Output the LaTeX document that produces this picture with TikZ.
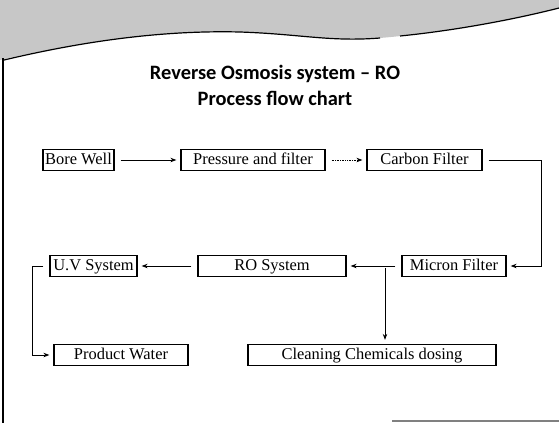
\documentclass[tikz,border=0pt]{standalone}
\usepackage{fontspec}
\setmainfont{Liberation Serif}
\newfontfamily\titlefont{Carlito}
\usetikzlibrary{arrows.meta}

\begin{document}
\begin{tikzpicture}[
            x=1bp, y=-1bp,
            >={Stealth[length=6pt, width=4.5pt]},
            stage/.style={
                    draw,
                    rectangle,
                    line width=1.3pt,
                    font=\fontsize{16.5}{18}\selectfont,
                    inner sep=1pt,
                    text height=11.5bp,
                    text depth=3.5bp,
                    minimum height=21bp
                },
            flow/.style={
                    ->,
                    line width=0.9pt,
                    shorten >=4pt,
                    shorten <=6pt
                },
            heading/.style={
                    font=\titlefont\bfseries\fontsize{20.5}{26}\selectfont,
                    align=center
                }
        ]

        \useasboundingbox (0,0) rectangle (559,423);

        % top band and page frame
        \fill[black!22] (0,0) -- (0,60) .. controls (80,42) and (160,30) .. (240,32)
            .. controls (300,34) and (330,42) .. (380,38)
            .. controls (450,32) and (520,18) .. (559,8) -- (559,0) -- cycle;
        \draw[line width=1.2pt] (4,60) .. controls (80,42) and (160,30) .. (240,32)
            .. controls (300,34) and (330,42) .. (380,38);
        \draw[line width=1.2pt] (400,36) .. controls (460,30) and (520,18) .. (559,8);
        \draw[line width=2pt] (3,58) -- (3,423);
        \draw[gray, line width=1.2pt] (392,421) -- (559,421);

        \node[heading] (title) at (275,85) {Reverse Osmosis system – RO\\Process flow chart};

        \node[stage, minimum width=71bp] (borewell) at (78.5,160) {Bore Well};
        \node[stage, minimum width=144bp] (pressure) at (253,160) {Pressure and filter};
        \node[stage, minimum width=115bp] (carbon) at (424.5,160) {Carbon Filter};
        \node[stage, minimum width=104bp] (micron) at (454,266) {Micron Filter};
        \node[stage, minimum width=148bp] (rosys) at (272,266) {RO System};
        \node[stage, minimum width=87bp] (uvsys) at (93.5,266) {U.V System};
        \node[stage, minimum width=134bp] (product) at (121,355) {Product Water};
        \node[stage, minimum width=248bp] (cleaning) at (372,355) {Cleaning Chemicals dosing};

        \coordinate (branch) at (385,268);

        \draw[flow] (borewell) to (pressure);
        \draw[flow, line width=0.7pt, densely dotted] (pressure) to (carbon);
        \draw[flow] (carbon.east) -- ++(59,0) |- (micron.east);
        \draw[flow] (micron) to (rosys);
        \draw[flow] (rosys) to (uvsys);
        \draw[flow] (uvsys.west) -- ++(-17,0) |- (product.west);
        \draw[flow, shorten <=0pt] (branch) to (branch |- cleaning.north);

    \end{tikzpicture}
\end{document}
